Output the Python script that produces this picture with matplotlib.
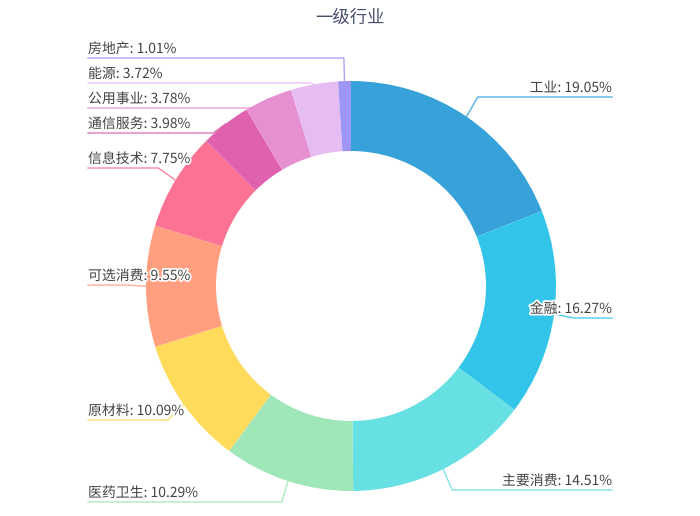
import matplotlib
matplotlib.use("Agg")
import matplotlib.pyplot as plt
import matplotlib.patheffects as pe
import numpy as np

plt.rcParams['font.family'] = ['Noto Sans CJK SC', 'DejaVu Sans']

# data
names = ['工业', '金融', '主要消费', '医药卫生', '原材料', '可选消费',
         '信息技术', '通信服务', '公用事业', '能源', '房地产']
shares = [19.05, 16.27, 14.51, 10.29, 10.09, 9.55, 7.75, 3.98, 3.78, 3.72, 1.01]
colors = ['#37a2da', '#32c5e9', '#67e0e3', '#9fe6b8', '#ffdb5c', '#ff9f7f',
          '#fb7293', '#e062ae', '#e690d1', '#e7bcf3', '#9d96f5']

# layout (pixels, y measured from top)
W, H = 700, 516
cx, cy = 351, 286
r_out, r_in = 205, 135
label_line_y = [97, 318, 490, 502, 420, 285, 168, 133, 108, 83, 58]
left_edge, right_edge = 88, 612

fig = plt.figure(figsize=(W / 100, H / 100), dpi=100)
ax = fig.add_axes([0, 0, 1, 1])

ax.pie(shares, colors=colors, center=(cx, H - cy), radius=r_out,
       startangle=90, counterclock=False,
       wedgeprops=dict(width=r_out - r_in, linewidth=0))
ax.set_xlim(0, W)
ax.set_ylim(0, H)
ax.set_aspect('equal')
ax.axis('off')

ax.text(W / 2, H - 18, '一级行业', ha='center', va='center',
        fontsize=12.5, color='#464f6e')

cum = np.cumsum([0] + shares)
stroke = [pe.withStroke(linewidth=2.5, foreground='white')]
for i, name in enumerate(names):
    mid = np.radians((cum[i] + cum[i + 1]) / 2 / 100 * 360)
    x0 = cx + r_out * np.sin(mid)
    y0 = cy - r_out * np.cos(mid)
    x1 = cx + (r_out + 20) * np.sin(mid)
    ly = label_line_y[i]
    right = np.sin(mid) > 0
    txt = f'{name}: {shares[i]:.2f}%'
    if right:
        xs = [x0, x1, right_edge]
        ax.text(right_edge, H - ly + 2, txt, ha='right', va='bottom',
                fontsize=10, color='#444444', path_effects=stroke, zorder=5)
    else:
        xs = [x0, x1, left_edge]
        ax.text(left_edge, H - ly + 2, txt, ha='left', va='bottom',
                fontsize=10, color='#444444', path_effects=stroke, zorder=5)
    ys = [H - y0, H - ly, H - ly]
    ax.plot(xs, ys, color=colors[i], lw=1, alpha=0.85, zorder=0.5)

fig.savefig('out.png', dpi=100)
